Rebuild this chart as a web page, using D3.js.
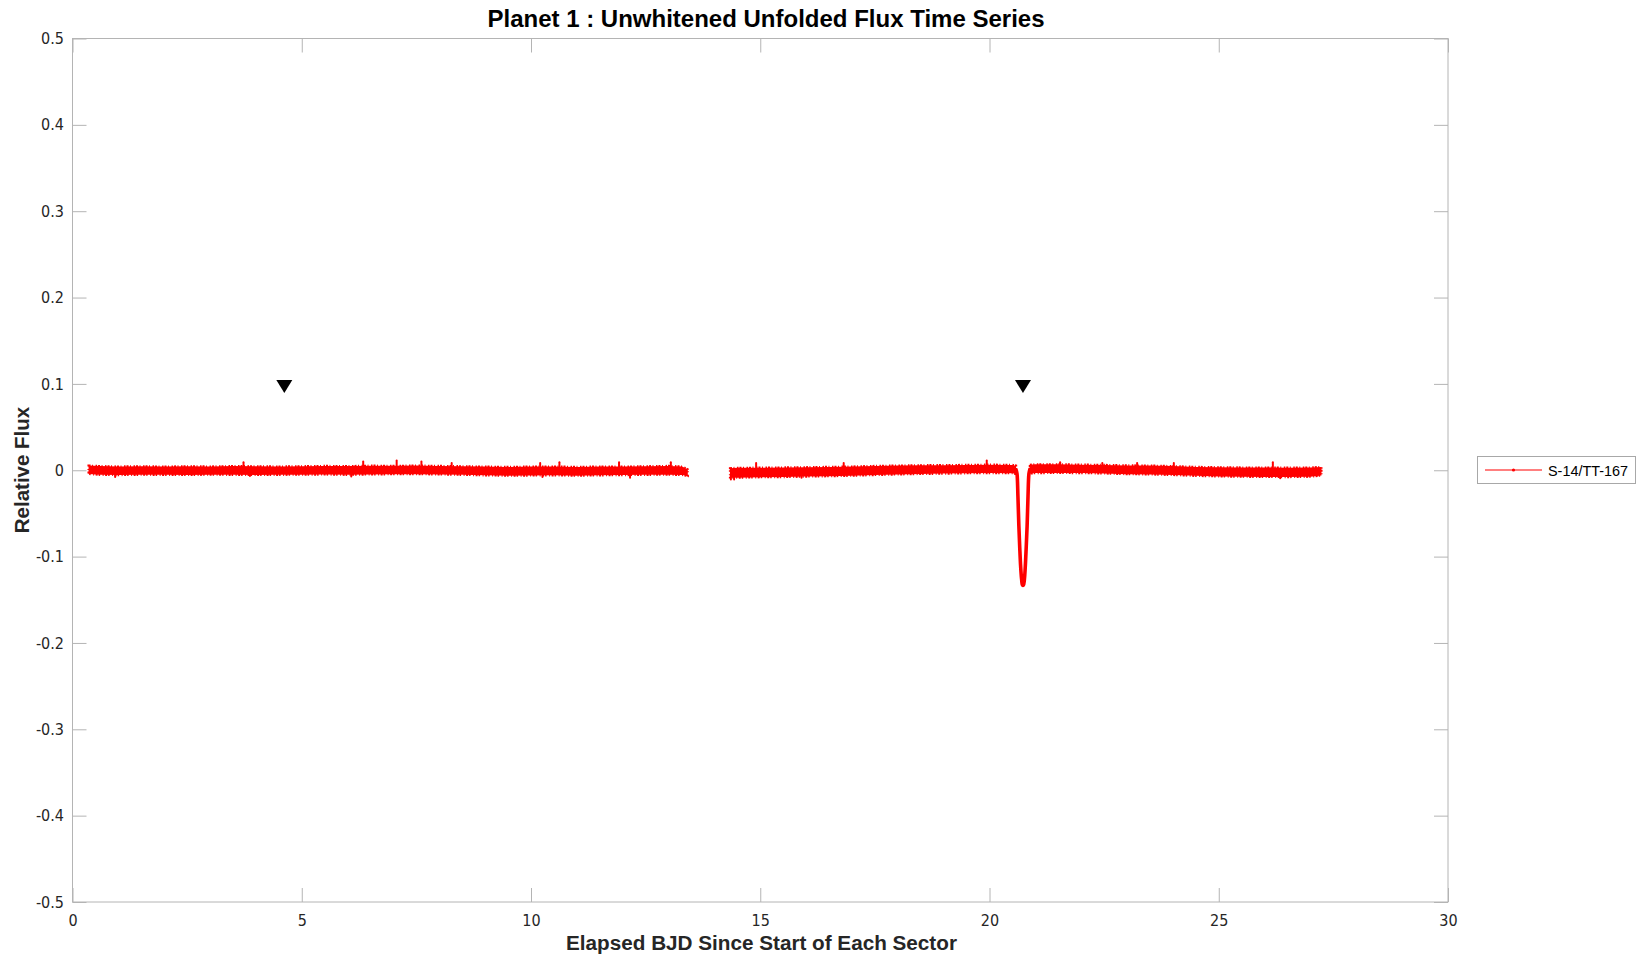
<!DOCTYPE html>
<html>
<head>
<meta charset="utf-8">
<script src="https://cdn.jsdelivr.net/npm/d3@7"></script>
<style>
  html, body { margin: 0; padding: 0; background: #ffffff; }
  svg { display: block; }
</style>
</head>
<body>
<svg id="chart" width="1639" height="954"></svg>
<script>
// ---------------- DATA ----------------
const title = "Planet 1 : Unwhitened Unfolded Flux Time Series";
const xLabel = "Elapsed BJD Since Start of Each Sector";
const yLabel = "Relative Flux";
const seriesName = "S-14/TT-167";

const xTicks = [0, 5, 10, 15, 20, 25, 30];
const xTickLabels = ["0", "5", "10", "15", "20", "25", "30"];
const yTicks = [0.5, 0.4, 0.3, 0.2, 0.1, 0, -0.1, -0.2, -0.3, -0.4, -0.5];
const yTickLabels = ["0.5", "0.4", "0.3", "0.2", "0.1", "0", "-0.1", "-0.2", "-0.3", "-0.4", "-0.5"];

// Segment 1 (first orbit) : envelope of the flux band
const seg1Times = [0.35, 0.6, 1.0, 1.5, 2.0, 2.5, 3.0, 3.5, 4.0, 4.5, 5.0, 5.5, 6.0, 6.5, 7.0, 7.5, 8.0, 8.5, 9.0, 9.5, 10.0, 10.5, 11.0, 11.5, 12.0, 12.5, 13.0, 13.3, 13.42];
const seg1Upper = [0.0054, 0.0048, 0.0043, 0.0046, 0.0042, 0.0046, 0.0043, 0.0048, 0.0046, 0.0043, 0.0046, 0.0050, 0.0048, 0.0053, 0.0051, 0.0054, 0.0050, 0.0046, 0.0042, 0.0039, 0.0042, 0.0043, 0.0039, 0.0043, 0.0042, 0.0046, 0.0050, 0.0043, 0.0010];
const seg1Lower = [-0.0043, -0.0053, -0.0056, -0.0052, -0.0053, -0.0055, -0.0051, -0.0053, -0.0055, -0.0053, -0.0051, -0.0049, -0.0053, -0.0048, -0.0046, -0.0045, -0.0048, -0.0053, -0.0059, -0.0063, -0.0061, -0.0059, -0.0063, -0.0059, -0.0056, -0.0053, -0.0051, -0.0055, -0.0067];

// Segment 2a (second orbit, before transit)
const seg2aTimes = [14.34, 14.5, 15.0, 15.5, 16.0, 16.5, 17.0, 17.5, 18.0, 18.5, 19.0, 19.5, 20.0, 20.5, 20.58];
const seg2aUpper = [0.0024, 0.0028, 0.0030, 0.0032, 0.0035, 0.0039, 0.0043, 0.0050, 0.0054, 0.0058, 0.0059, 0.0062, 0.0065, 0.0062, 0.0053];
const seg2aLower = [-0.0083, -0.0087, -0.0081, -0.0079, -0.0073, -0.0069, -0.0063, -0.0055, -0.0048, -0.0043, -0.0039, -0.0035, -0.0033, -0.0035, -0.0043];

// Segment 2b (second orbit, after transit)
const seg2bTimes = [20.88, 21.0, 21.5, 22.0, 22.5, 23.0, 23.5, 24.0, 24.5, 25.0, 25.5, 26.0, 26.5, 27.0, 27.24];
const seg2bUpper = [0.0063, 0.0069, 0.0069, 0.0065, 0.0062, 0.0056, 0.0054, 0.0048, 0.0039, 0.0035, 0.0032, 0.0032, 0.0030, 0.0032, 0.0038];
const seg2bLower = [-0.0038, -0.0033, -0.0031, -0.0033, -0.0037, -0.0045, -0.0048, -0.0055, -0.0065, -0.0071, -0.0075, -0.0077, -0.0079, -0.0075, -0.0060];

// Transit dip
const transitTimes = [20.58, 20.60, 20.62, 20.64, 20.66, 20.68, 20.70, 20.72, 20.74, 20.76, 20.78, 20.80, 20.82, 20.84, 20.86, 20.88];
const transitFlux  = [0.0005, -0.004, -0.030, -0.064, -0.090, -0.112, -0.126, -0.133, -0.133, -0.127, -0.112, -0.090, -0.065, -0.030, -0.004, 0.0010];

// Isolated points sticking out of the band
const outlierTimes = [3.73, 6.34, 7.07, 7.61, 8.27, 10.20, 10.62, 11.92, 13.05, 14.91, 16.82, 19.94, 21.54, 22.46, 23.22, 24.02, 26.18,
                      0.93, 3.87, 6.08, 10.25, 12.16, 14.36, 14.43, 15.90, 26.34];
const outlierFlux  = [0.0092, 0.0100, 0.0112, 0.0100, 0.0084, 0.0084, 0.0092, 0.0092, 0.0092, 0.0084, 0.0084, 0.0112, 0.0092, 0.0084, 0.0084, 0.0084, 0.0092,
                      -0.0079, -0.0067, -0.0071, -0.0079, -0.0087, -0.0106, -0.0106, -0.0087, -0.0094];

// Transit markers
const markerTimes = [4.62, 20.73];
const markerFlux = [0.097, 0.097];

// ---------------- DRAW ----------------
const svg = d3.select("#chart");
const plotL = 72.5, plotR = 1448, plotT = 38.5, plotB = 902;
const x = d3.scaleLinear().domain([0, 30]).range([plotL, plotR]);
const y = d3.scaleLinear().domain([-0.5, 0.5]).range([plotB, plotT]);

const tickFont = "'Liberation Sans Narrow', 'Arial Narrow', 'DejaVu Sans Condensed', sans-serif";
const boldFont = "'Liberation Sans', Arial, Helvetica, sans-serif";
const axisGray = "#b4b4b4";
const labelColor = "#262626";

// plot box
svg.append("rect")
  .attr("x", plotL).attr("y", plotT)
  .attr("width", plotR - plotL).attr("height", plotB - plotT)
  .attr("fill", "#fff").attr("stroke", axisGray).attr("stroke-width", 1);

function styleAxis(g) {
  g.select(".domain").remove();
  g.selectAll(".tick line").attr("stroke", axisGray).attr("stroke-width", 1);
  g.selectAll(".tick text").attr("fill", labelColor)
    .style("font-family", tickFont).style("font-size", "16px");
}

svg.append("g").attr("transform", `translate(0,${plotB})`)
  .call(d3.axisBottom(x).tickValues(xTicks).tickSizeInner(-14).tickSizeOuter(0).tickPadding(13)
        .tickFormat((d, i) => xTickLabels[i]))
  .call(styleAxis);
svg.append("g").attr("transform", `translate(0,${plotT})`)
  .call(d3.axisTop(x).tickValues(xTicks).tickSizeInner(-14).tickSizeOuter(0).tickFormat(""))
  .call(styleAxis);
svg.append("g").attr("transform", `translate(${plotL},0)`)
  .call(d3.axisLeft(y).tickValues(yTicks).tickSizeInner(-14).tickSizeOuter(0).tickPadding(8.5)
        .tickFormat((d, i) => yTickLabels[i]))
  .call(styleAxis);
svg.append("g").attr("transform", `translate(${plotR},0)`)
  .call(d3.axisRight(y).tickValues(yTicks).tickSizeInner(-14).tickSizeOuter(0).tickFormat(""))
  .call(styleAxis);

// data band
const red = "#ff0000";
const area = d3.area().x(d => x(d.t)).y0(d => y(d.lo)).y1(d => y(d.hi)).curve(d3.curveLinear);
function band(times, up, lo) {
  return times.map((t, i) => ({ t: t, hi: up[i], lo: lo[i] }));
}
const dataG = svg.append("g");
[[seg1Times, seg1Upper, seg1Lower], [seg2aTimes, seg2aUpper, seg2aLower], [seg2bTimes, seg2bUpper, seg2bLower]]
  .forEach(s => {
    const b = band(s[0], s[1], s[2]);
    dataG.append("path").datum(b)
      .attr("d", area).attr("fill", red).attr("stroke", "none");
    // rough, dotted-looking edge of the dense point cloud
    dataG.append("path").datum(b)
      .attr("d", area).attr("fill", "none").attr("stroke", red)
      .attr("stroke-width", 2.2).attr("stroke-dasharray", "2 1.5 1 2.5 1.5 1");
  });

// transit dip
const transit = transitTimes.map((t, i) => ({ t: t, f: transitFlux[i] }));
dataG.append("path").datum(transit)
  .attr("d", d3.line().x(d => x(d.t)).y(d => y(d.f)).curve(d3.curveCatmullRom))
  .attr("fill", "none").attr("stroke", red).attr("stroke-width", 3.6)
  .attr("stroke-linejoin", "round").attr("stroke-linecap", "round");

// outliers: short spikes from the band edge to the point
dataG.selectAll("line.out").data(outlierTimes.map((t, i) => ({ t: t, f: outlierFlux[i] })))
  .enter().append("line").attr("class", "out")
  .attr("x1", d => x(d.t)).attr("x2", d => x(d.t))
  .attr("y1", d => y(d.f > 0 ? 0.003 : -0.003)).attr("y2", d => y(d.f))
  .attr("stroke", red).attr("stroke-width", 2).attr("stroke-linecap", "round");

// transit markers (downward triangles)
const triW = 16, triH = 13;
svg.selectAll("path.mk").data(markerTimes.map((t, i) => ({ t: t, f: markerFlux[i] })))
  .enter().append("path").attr("class", "mk")
  .attr("d", d => {
    const cx = x(d.t), cy = y(d.f);
    return `M${cx - triW / 2},${cy - triH / 2}L${cx + triW / 2},${cy - triH / 2}L${cx},${cy + triH / 2}Z`;
  })
  .attr("fill", "#000");

// title and labels
svg.append("text").attr("x", 766).attr("y", 27).attr("text-anchor", "middle")
  .style("font-family", boldFont).style("font-weight", "bold").style("font-size", "24px")
  .attr("fill", "#000").text(title);
svg.append("text").attr("x", 761.5).attr("y", 949.5).attr("text-anchor", "middle")
  .style("font-family", boldFont).style("font-weight", "bold").style("font-size", "20.7px")
  .attr("fill", labelColor).text(xLabel);
svg.append("text").attr("transform", `translate(28.5,470) rotate(-90)`).attr("text-anchor", "middle")
  .style("font-family", boldFont).style("font-weight", "bold").style("font-size", "20.5px")
  .attr("fill", labelColor).text(yLabel);

// legend
const lg = svg.append("g");
lg.append("rect").attr("x", 1477.5).attr("y", 456.5).attr("width", 158).attr("height", 27)
  .attr("fill", "#fff").attr("stroke", "#a8a8a8").attr("stroke-width", 1);
lg.append("line").attr("x1", 1485).attr("x2", 1542).attr("y1", 470).attr("y2", 470)
  .attr("stroke", red).attr("stroke-width", 1.2);
lg.append("circle").attr("cx", 1513.5).attr("cy", 470).attr("r", 1.6).attr("fill", red);
lg.append("text").attr("x", 1548).attr("y", 475.5)
  .attr("textLength", 80).attr("lengthAdjust", "spacingAndGlyphs")
  .style("font-family", boldFont).style("font-size", "15px").attr("fill", "#000").text(seriesName);
</script>
</body>
</html>
